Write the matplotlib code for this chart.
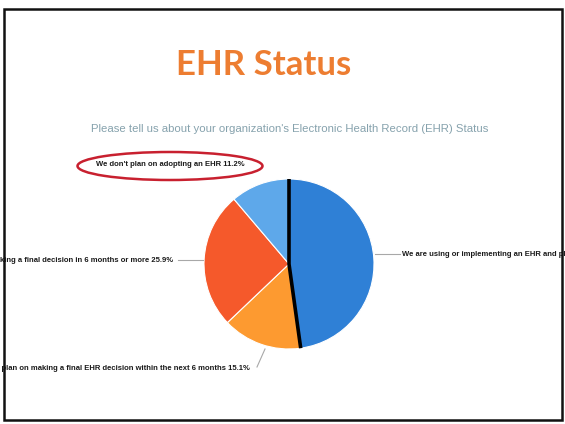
import matplotlib
matplotlib.use("Agg")
import matplotlib.pyplot as plt
import numpy as np
from matplotlib.patches import Rectangle, Ellipse

W, H = 565, 424

title = "EHR Status"
subtitle = "Please tell us about your organization's Electronic Health Record (EHR) Status"
categories = [
    "We are using or implementing an EHR and plan to keep it",
    "We plan on making a final EHR decision within the next 6 months",
    "We plan on making a final decision in 6 months or more",
    "We don't plan on adopting an EHR",
]
values = [47.8, 15.1, 25.9, 11.2]
colors = ["#2f80d6", "#fd9a30", "#f5592b", "#5ea8ea"]


def Y(py):
    return H - py


fig = plt.figure(figsize=(W / 100, H / 100), dpi=100)
ax = fig.add_axes([0, 0, 1, 1])
ax.set_xlim(0, W)
ax.set_ylim(0, H)
ax.set_aspect("equal")
ax.axis("off")

# slide frame
frame = Rectangle((4, Y(420)), 558, 411, fill=False, edgecolor="#111111", lw=1.8, zorder=5)
ax.add_patch(frame)

ax.text(264, Y(75), title, ha="center", va="baseline", fontsize=25,
        fontweight="bold", family="Lato", color="#ed7d31")
ax.text(290, Y(129), subtitle, ha="center", va="center", fontsize=8.2,
        family="Liberation Sans", color="#86a2ad")

cx, cy, r = 289, Y(264), 85
wedges, _ = ax.pie(values, colors=colors, startangle=90, counterclock=False,
                   center=(cx, cy), radius=r, frame=True,
                   wedgeprops=dict(edgecolor="white", linewidth=0.8))
ax.set_xlim(0, W)
ax.set_ylim(0, H)
ax.axis("off")

# black line along blue slice radii
w0 = wedges[0]
a1, a2 = np.deg2rad(w0.theta1), np.deg2rad(w0.theta2)
ax.plot([cx + r * np.cos(a2), cx, cx + r * np.cos(a1)],
        [cy + r * np.sin(a2), cy, cy + r * np.sin(a1)],
        color="black", lw=2.6, solid_capstyle="butt", zorder=4)

lab_kw = dict(fontsize=5.5, family="Liberation Sans", fontweight="bold", color="#1a1a1a")
labels = [f"{c} {v}%" for c, v in zip(categories, values)]

t = ax.text(402, Y(254), labels[0], ha="left", va="center", **lab_kw)
t.set_clip_path(frame)
t = ax.text(250, Y(368), labels[1], ha="right", va="center", **lab_kw)
t.set_clip_path(frame)
t = ax.text(173, Y(260), labels[2], ha="right", va="center", **lab_kw)
t.set_clip_path(frame)
ax.text(170, Y(165), labels[3], ha="center", va="center", **lab_kw)

lc = "#a8a8a8"
ax.plot([375, 400], [Y(254), Y(254)], color=lc, lw=0.8)
ax.plot([178, 203], [Y(260), Y(260)], color=lc, lw=0.8)
ax.plot([257, 265], [Y(367), Y(349)], color=lc, lw=0.8)

ax.add_patch(Ellipse((170, Y(166)), 185, 28, fill=False, edgecolor="#c8202f", lw=1.8))

fig.savefig("out.png", dpi=100)
